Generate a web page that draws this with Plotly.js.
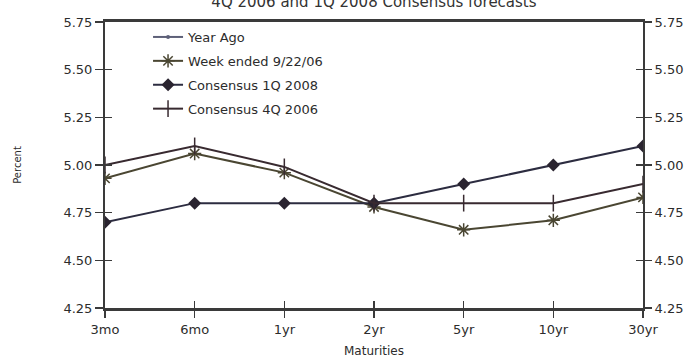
<!DOCTYPE html>
<html>
<head>
<meta charset="utf-8">
<script src="https://cdn.plot.ly/plotly-3.0.1.min.js"></script>
<style>
  html, body { margin: 0; padding: 0; background: #fff; }
  #chart { width: 699px; height: 362px; }
</style>
</head>
<body>
<div id="chart"></div>
<script>
// Treasury yield curve: maturities and yields (percent)
const maturities = ['3mo', '6mo', '1yr', '2yr', '5yr', '10yr', '30yr'];

// Year-ago curve sits below the plotted range, so no points fall inside it
const yearAgo      = [null, null, null, null, null, null, null];
const weekEnded    = [4.93, 5.06, 4.96, 4.78, 4.66, 4.71, 4.83];
const consensus1Q08 = [4.70, 4.80, 4.80, 4.80, 4.90, 5.00, 5.10];
const consensus4Q06 = [5.00, 5.10, 4.99, 4.80, 4.80, 4.80, 4.90];

const yTicks = [4.25, 4.50, 4.75, 5.00, 5.25, 5.50, 5.75];
const yTickText = ['4.25', '4.50', '4.75', '5.00', '5.25', '5.50', '5.75'];

const FONT = 'DejaVu Sans, Arial, sans-serif';
const AXIS = '#3a3a3a';
const TEXT = '#2c2c2c';

const traces = [
  {
    name: 'Year Ago', x: maturities, y: yearAgo, type: 'scatter', mode: 'lines+markers',
    line: { color: '#5d6078', width: 2 }, marker: { symbol: 'circle', size: 4, color: '#5d6078' },
    legendgroup: 'a'
  },
  {
    name: 'Week ended 9/22/06', x: maturities, y: weekEnded, type: 'scatter', mode: 'lines+markers',
    line: { color: '#4a4632', width: 2 },
    marker: { symbol: 'asterisk-open', size: 11, line: { color: '#2e2a2a', width: 1.5 } },
    legendgroup: 'b'
  },
  {
    name: 'Consensus 1Q 2008', x: maturities, y: consensus1Q08, type: 'scatter', mode: 'lines+markers',
    line: { color: '#2c2c40', width: 2 },
    marker: { symbol: 'diamond', size: 10, color: '#2a2430' },
    legendgroup: 'c'
  },
  {
    name: 'Consensus 4Q 2006', x: maturities, y: consensus4Q06, type: 'scatter', mode: 'lines+markers',
    line: { color: '#382a30', width: 2 },
    marker: { symbol: 'line-ns-open', size: 12, line: { color: '#2e2a2e', width: 1.5 } },
    legendgroup: 'd'
  }
];

// Overlay axes: inner halves of the crossing tick marks and the right-hand scale
const ghostX = { x: [0, 6], y: [4.25, 4.25], xaxis: 'x2', yaxis: 'y3', mode: 'none', showlegend: false, hoverinfo: 'skip' };
const ghostY = { x: [0, 6], y: [4.25, 5.75], xaxis: 'x', yaxis: 'y2', mode: 'none', showlegend: false, hoverinfo: 'skip' };
traces.push(ghostX, ghostY);

const layout = {
  width: 699, height: 362,
  margin: { l: 105, r: 56, t: 22, b: 54, pad: 0 },
  paper_bgcolor: '#ffffff', plot_bgcolor: '#ffffff',
  font: { family: FONT, color: TEXT, size: 13 },
  title: {
    text: '4Q 2006 and 1Q 2008 Consensus forecasts',
    font: { family: FONT, size: 15, color: '#333' },
    x: 0.535, xanchor: 'center', y: 0.995, yref: 'container', yanchor: 'middle'
  },
  showlegend: true,
  legend: {
    x: 0.08, y: 1.0, xanchor: 'left', yanchor: 'top',
    bgcolor: 'rgba(255,255,255,0)', borderwidth: 0,
    font: { family: FONT, size: 13, color: TEXT },
    traceorder: 'grouped', tracegroupgap: 4
  },
  xaxis: {
    type: 'category', range: [0, 6],
    showline: true, linecolor: AXIS, linewidth: 3, mirror: true,
    ticks: 'outside', ticklen: 7, tickwidth: 1.5, tickcolor: AXIS,
    showgrid: false, zeroline: false,
    tickfont: { family: FONT, size: 13, color: TEXT },
    title: { text: 'Maturities', font: { family: FONT, size: 12, color: TEXT }, standoff: 12 }
  },
  xaxis2: {
    overlaying: 'x', anchor: 'y3', range: [0, 6], tickvals: [0, 1, 2, 3, 4, 5, 6],
    ticks: 'inside', ticklen: 7, tickwidth: 1.5, tickcolor: AXIS,
    showticklabels: false, showline: false, showgrid: false, zeroline: false
  },
  yaxis: {
    range: [4.25, 5.75], tickvals: yTicks, ticktext: yTickText,
    showline: true, linecolor: AXIS, linewidth: 2,
    ticks: 'outside', ticklen: 8, tickwidth: 1.5, tickcolor: AXIS,
    showgrid: false, zeroline: false,
    tickfont: { family: FONT, size: 13, color: TEXT },
    title: { text: 'Percent', font: { family: FONT, size: 10, color: TEXT }, standoff: 40 }
  },
  yaxis2: {
    overlaying: 'y', side: 'right', range: [4.25, 5.75], tickvals: yTicks, ticktext: yTickText,
    showline: true, linecolor: AXIS, linewidth: 2,
    ticks: 'outside', ticklen: 7, tickwidth: 1.5, tickcolor: AXIS,
    showgrid: false, zeroline: false,
    tickfont: { family: FONT, size: 13, color: TEXT }
  },
  yaxis3: {
    overlaying: 'y', side: 'left', range: [4.25, 5.75], tickvals: yTicks,
    ticks: 'inside', ticklen: 7, tickwidth: 1.5, tickcolor: AXIS, mirror: 'ticks',
    showticklabels: false, showline: false, showgrid: false, zeroline: false
  }
};

Plotly.newPlot('chart', traces, layout, { displayModeBar: false, staticPlot: true });
</script>
</body>
</html>
